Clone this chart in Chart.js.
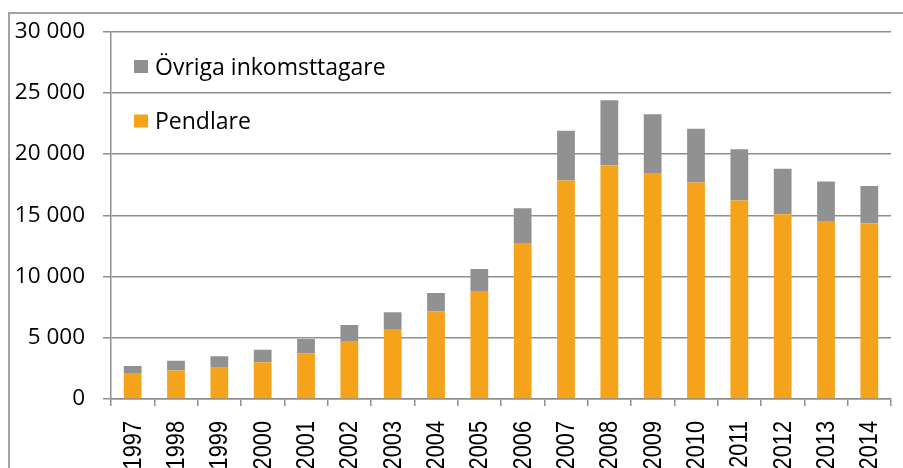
<!DOCTYPE html>
<html><head><meta charset="utf-8">
<script src="https://cdn.jsdelivr.net/npm/chart.js@4"></script>
<style>
html,body{margin:0;padding:0;background:#fff;overflow:hidden}
#wrap{position:relative;width:903px;height:468px}
#frame{position:absolute;left:8px;top:12px;width:900px;height:470px;border-left:2px solid #a3a3a3;border-top:2px solid #a3a3a3;pointer-events:none}
</style></head><body>
<div id="wrap"><canvas id="c" width="903" height="468"></canvas><div id="frame"></div></div>
<script>
const years = ['1997','1998','1999','2000','2001','2002','2003','2004','2005','2006','2007','2008','2009','2010','2011','2012','2013','2014'];
const pendlare = [2060,2320,2550,3000,3730,4670,5650,7170,8760,12730,17840,19080,18380,17680,16200,15080,14460,14350];
const ovriga = [640,800,950,1020,1160,1380,1430,1480,1860,2840,4060,5310,4870,4380,4180,3710,3300,3030];
const seriesNames = ['Pendlare','Övriga inkomsttagare'];
const seriesColors = ['#F5A31B','#919191'];
const yMin = 0, yMax = 30000, yStep = 5000;

function fmt(v){ return String(v).replace(/\B(?=(\d{3})+(?!\d))/g,' '); }

const legendPlugin = {
  id:'insideLegend',
  afterDraw(chart){
    const c = chart.ctx;
    c.save();
    c.font = '23px "Open Sans"';
    c.textBaseline = 'alphabetic';
    c.textAlign = 'left';
    const ds = chart.data.datasets.slice().reverse();
    const rows = [{sq:60, base:75},{sq:114.5, base:128.5}];
    ds.forEach((d,i)=>{
      c.fillStyle = d.backgroundColor;
      c.fillRect(134, rows[i].sq, 14, 13);
      c.fillStyle = '#000';
      c.fillText(d.label, 155, rows[i].base);
    });
    c.restore();
  }
};

const xLabelPlugin = {
  id:'xLabels',
  afterDraw(chart){
    const c = chart.ctx, sx = chart.scales.x;
    c.save();
    c.font = '25px "Liberation Sans"';
    c.fillStyle = '#000';
    c.textAlign = 'right';
    c.textBaseline = 'middle';
    chart.data.labels.forEach((lab,i)=>{
      const x = sx.getPixelForValue(i) + 1;
      c.save();
      c.translate(x, chart.chartArea.bottom + 22);
      c.rotate(-Math.PI/2);
      c.scale(0.87, 1);
      c.fillText(lab, 0, 0);
      c.restore();
    });
    c.restore();
  }
};

new Chart(document.getElementById('c'), {
  type:'bar',
  data:{
    labels: years,
    datasets:[
      {label:seriesNames[0], data:pendlare, backgroundColor:seriesColors[0], stack:'s', barPercentage:0.41, categoryPercentage:1},
      {label:seriesNames[1], data:ovriga, backgroundColor:seriesColors[1], stack:'s', barPercentage:0.41, categoryPercentage:1}
    ]
  },
  options:{
    responsive:false, animation:false, devicePixelRatio:1,
    layout:{padding:{left:0,right:12,top:29,bottom:0}},
    plugins:{legend:{display:false}, tooltip:{enabled:false}},
    scales:{
      x:{
        stacked:true,
        grid:{display:true, drawOnChartArea:false, drawTicks:true, tickLength:7, color:'#8f8f8f', lineWidth:1.5, offset:true},
        border:{display:true, color:'#8f8f8f', width:1.5},
        ticks:{display:false},
        afterFit(s){ s.height = 69; }
      },
      y:{
        stacked:true, min:yMin, max:yMax,
        grid:{color:'#8f8f8f', lineWidth:1.5, tickLength:8},
        border:{display:true, color:'#8f8f8f', width:1.5},
        ticks:{stepSize:yStep, padding:18, color:'#000', font:{family:'"Open Sans"', size:22.5}, callback:v=>fmt(v)},
        afterFit(s){ s.width = 111; }
      }
    }
  },
  plugins:[legendPlugin, xLabelPlugin]
});
</script>
</body></html>
